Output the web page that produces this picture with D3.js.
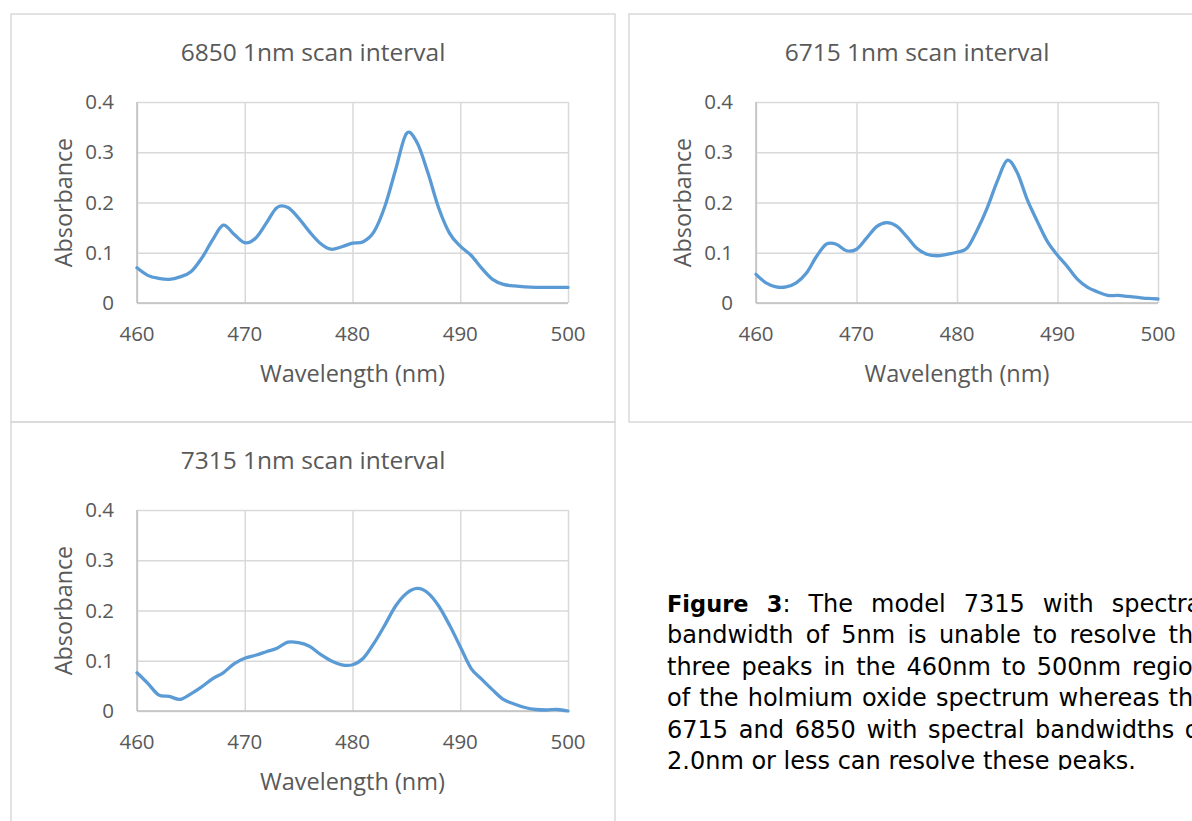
<!DOCTYPE html>
<html>
<head>
<meta charset="utf-8">
<script src="https://cdn.jsdelivr.net/npm/d3@7"></script>
<style>
  body { margin: 0; background: #fff; }
  #wrap { position: relative; width: 1192px; height: 821px; overflow: hidden; }
  #wrap svg { position: absolute; left: 0; top: 0; }
  #caption {
    position: absolute; left: 667px; top: 589px; width: 541px; height: 181px;
    overflow: hidden; font-family: "DejaVu Sans", Verdana, sans-serif;
    font-size: 24px; line-height: 31.4px; color: #000;
  }
  #caption b { font-size: 22.5px; }
  #caption div { text-align: justify; text-align-last: justify; white-space: nowrap; }
  #caption div.last { text-align: left; text-align-last: left; }
</style>
</head>
<body>
<div id="wrap">
  <div id="caption"></div>
</div>
<script>
const wavelengths = [460, 461, 462, 463, 464, 465, 466, 467, 468, 469,
                     470, 471, 472, 473, 474, 475, 476, 477, 478, 479,
                     480, 481, 482, 483, 484, 485, 486, 487, 488, 489,
                     490, 491, 492, 493, 494, 495, 496, 497, 498, 499, 500]

// absorbance
const abs6850 = [0.070, 0.055, 0.049, 0.047, 0.052, 0.062, 0.089, 0.125, 0.155, 0.137,
                 0.120, 0.129, 0.159, 0.190, 0.190, 0.169, 0.142, 0.119, 0.107, 0.112,
                 0.119, 0.122, 0.142, 0.192, 0.265, 0.337, 0.319, 0.259, 0.189, 0.139,
                 0.113, 0.095, 0.069, 0.047, 0.037, 0.034, 0.032, 0.031, 0.031, 0.031, 0.031]
const abs6715 = [0.057, 0.040, 0.032, 0.032, 0.040, 0.059, 0.092, 0.117, 0.117, 0.104,
                 0.107, 0.129, 0.152, 0.160, 0.153, 0.132, 0.109, 0.097, 0.094, 0.097,
                 0.101, 0.109, 0.145, 0.189, 0.242, 0.284, 0.259, 0.205, 0.162, 0.122,
                 0.095, 0.072, 0.047, 0.031, 0.022, 0.015, 0.015, 0.013, 0.011, 0.009, 0.008]
const abs7315 = [0.076, 0.055, 0.032, 0.029, 0.023, 0.034, 0.048, 0.064, 0.076, 0.094,
                 0.105, 0.111, 0.118, 0.125, 0.137, 0.136, 0.129, 0.113, 0.100, 0.092,
                 0.092, 0.105, 0.135, 0.171, 0.209, 0.234, 0.244, 0.235, 0.209, 0.171,
                 0.128, 0.085, 0.063, 0.042, 0.023, 0.014, 0.007, 0.003, 0.002, 0.003, 0.000]

const xTicks = [460, 470, 480, 490, 500]
const yTicks = [0, 0.1, 0.2, 0.3, 0.4]
const yTickLabels = ["0", "0.1", "0.2", "0.3", "0.4"]

const captionLines = [
  ["Figure 3", ": The model 7315 with spectral"],
  ["", "bandwidth of 5nm is unable to resolve the"],
  ["", "three peaks in the 460nm to 500nm region"],
  ["", "of the holmium oxide spectrum whereas the"],
  ["", "6715 and 6850 with spectral bandwidths of"],
  ["", "2.0nm or less can resolve these peaks."]
]

const panels = [
  { title: "6850 1nm scan interval", values: abs6850,
    box: [11, 14, 615, 422], plot: [137, 102, 568, 303] },
  { title: "6715 1nm scan interval", values: abs6715,
    box: [629, 14, 1205, 422], plot: [756, 102, 1158, 303] },
  { title: "7315 1nm scan interval", values: abs7315,
    box: [11, 422, 615, 860], plot: [137, 510, 568, 711] }
]

const font = '"Open Sans", "Segoe UI", sans-serif'
const textColor = "#595959"

const svg = d3.select("#wrap").insert("svg", "#caption")
    .attr("width", 1192)
    .attr("height", 821)

function drawPanel(p) {
    const [bx0, by0, bx1, by1] = p.box
    const [px0, py0, px1, py1] = p.plot

    // outer chart border
    svg.append("rect")
        .attr("x", bx0).attr("y", by0)
        .attr("width", bx1 - bx0).attr("height", by1 - by0)
        .attr("fill", "none")
        .attr("stroke", "#d9d9d9")
        .attr("stroke-width", 1.5)

    const x = d3.scaleLinear().domain([460, 500]).range([px0, px1])
    const y = d3.scaleLinear().domain([0, 0.4]).range([py1, py0])

    const g = svg.append("g")

    // gridlines
    g.append("g")
        .attr("transform", "translate(0," + py1 + ")")
        .call(d3.axisBottom(x).tickValues(xTicks).tickSize(-(py1 - py0)).tickFormat(""))
        .call(a => a.select(".domain").remove())
        .call(a => a.selectAll("line").attr("stroke", "#d9d9d9").attr("stroke-width", 1.5))
    g.append("g")
        .attr("transform", "translate(" + px0 + ",0)")
        .call(d3.axisLeft(y).tickValues(yTicks).tickSize(-(px1 - px0)).tickFormat(""))
        .call(a => a.select(".domain").remove())
        .call(a => a.selectAll("line").attr("stroke", "#d9d9d9").attr("stroke-width", 1.5))

    // axis lines
    g.append("line")
        .attr("x1", px0).attr("x2", px1).attr("y1", py1).attr("y2", py1)
        .attr("stroke", "#bfbfbf").attr("stroke-width", 1.5)
    g.append("line")
        .attr("x1", px0).attr("x2", px0).attr("y1", py0).attr("y2", py1)
        .attr("stroke", "#bfbfbf").attr("stroke-width", 1.5)

    // tick labels
    g.selectAll(".xl").data(xTicks).enter().append("text")
        .attr("x", d => x(d)).attr("y", py1 + 38)
        .attr("text-anchor", "middle")
        .attr("font-family", font).attr("font-size", 20.5).attr("fill", textColor)
        .text(d => d)
    g.selectAll(".yl").data(yTicks).enter().append("text")
        .attr("x", px0 - 23).attr("y", d => y(d) + 7)
        .attr("text-anchor", "end")
        .attr("font-family", font).attr("font-size", 20.5).attr("fill", textColor)
        .text((d, i) => yTickLabels[i])

    // titles
    svg.append("text")
        .attr("x", (bx0 + bx1) / 2).attr("y", by0 + 47)
        .attr("text-anchor", "middle")
        .attr("font-family", font).attr("font-size", 24.5).attr("fill", textColor)
        .text(p.title)
    svg.append("text")
        .attr("x", (px0 + px1) / 2).attr("y", py1 + 79)
        .attr("text-anchor", "middle")
        .attr("font-family", font).attr("font-size", 23.5).attr("fill", textColor)
        .text("Wavelength (nm)")
    svg.append("text")
        .attr("transform", "translate(" + (px0 - 65) + "," + ((py0 + py1) / 2) + ") rotate(-90)")
        .attr("text-anchor", "middle")
        .attr("font-family", font).attr("font-size", 23.3).attr("fill", textColor)
        .text("Absorbance")

    // spectrum
    const line = d3.line()
        .x((d, i) => x(wavelengths[i]))
        .y(d => y(d))
        .curve(d3.curveCatmullRom.alpha(0))

    g.append("path")
        .datum(p.values)
        .attr("d", line)
        .attr("fill", "none")
        .attr("stroke", "#5b9bd5")
        .attr("stroke-width", 3.3)
        .attr("stroke-linejoin", "round")
        .attr("stroke-linecap", "round")
}

panels.forEach(drawPanel)

// caption, justified like the source document
const cap = d3.select("#caption")
captionLines.forEach((l, i) => {
    const row = cap.append("div")
    if (i === captionLines.length - 1) row.attr("class", "last")
    if (l[0]) row.append("b").text(l[0])
    row.append("span").text(l[1])
})
</script>
</body>
</html>
